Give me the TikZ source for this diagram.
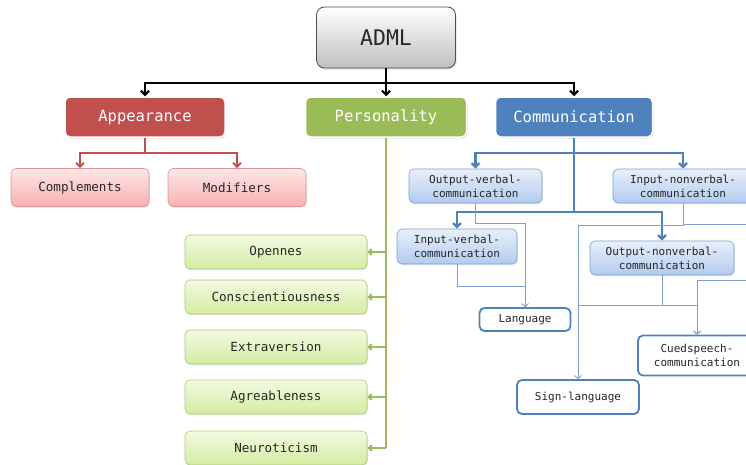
\documentclass[tikz,border=0pt]{standalone}
\usepackage{fontspec}
\setmonofont{DejaVu Sans Mono}
\usepackage{tikz}
\usetikzlibrary{arrows.meta,shadows}

\definecolor{appred}{HTML}{C0504D}
\definecolor{persgreen}{HTML}{9BBB59}
\definecolor{commblue}{HTML}{4F81BD}
\definecolor{thinblue}{HTML}{7BA0CD}
\definecolor{txtgray}{HTML}{262626}
\definecolor{pinktop}{HTML}{FDE7E7}
\definecolor{pinkbot}{HTML}{F8B0B0}
\definecolor{limetop}{HTML}{F3FAE2}
\definecolor{limebot}{HTML}{D3ECA2}
\definecolor{skytop}{HTML}{E8EFFA}
\definecolor{skybot}{HTML}{B2CBEF}

\begin{document}
\begin{tikzpicture}[x=1pt,y=-1pt,font=\ttfamily]
    \tikzstyle{root} = [rectangle, rounded corners=8pt, draw=black!70, line width=0.8pt, top color=white, bottom color=black!25, minimum width=139pt, minimum height=61pt, font=\ttfamily\fontsize{21.5}{24}\selectfont, text=txtgray, drop shadow={opacity=0.25,shadow xshift=1pt,shadow yshift=-1.5pt}]
    \tikzstyle{cat} = [rectangle, rounded corners=5pt, draw=white, line width=1.5pt, minimum height=40pt, text=white, font=\ttfamily\fontsize{15.5}{18}\selectfont, drop shadow={opacity=0.25,shadow xshift=1pt,shadow yshift=-1.5pt}]
    \tikzstyle{redsub} = [rectangle, rounded corners=5pt, draw=appred!60, line width=0.6pt, top color=pinktop, bottom color=pinkbot, minimum width=138pt, minimum height=38pt, text=txtgray, font=\ttfamily\fontsize{12.6}{15}\selectfont, drop shadow={opacity=0.2,shadow xshift=0.8pt,shadow yshift=-1.2pt}]
    \tikzstyle{greensub} = [rectangle, rounded corners=5pt, draw=persgreen!80, line width=0.6pt, top color=limetop, bottom color=limebot, minimum width=182pt, minimum height=34pt, text=txtgray, font=\ttfamily\fontsize{12.6}{15}\selectfont, drop shadow={opacity=0.2,shadow xshift=0.8pt,shadow yshift=-1.2pt}]
    \tikzstyle{bluesub} = [rectangle, rounded corners=5pt, draw=thinblue, line width=0.6pt, top color=skytop, bottom color=skybot, minimum height=34pt, align=center, text=txtgray, font=\ttfamily\fontsize{11}{14}\selectfont, drop shadow={opacity=0.2,shadow xshift=0.8pt,shadow yshift=-1.2pt}]
    \tikzstyle{leaf} = [rectangle, rounded corners=5pt, draw=commblue, line width=1.8pt, fill=white, align=center, text=txtgray, font=\ttfamily\fontsize{11}{14}\selectfont]
    \tikzstyle{blackarrow} = [black, line width=2.2pt, -{Straight Barb[length=4pt,width=8pt]}]
    \tikzstyle{redarrow} = [appred, line width=2pt, -{Straight Barb[length=4pt,width=8pt]}]
    \tikzstyle{greenarrow} = [persgreen, line width=2pt, -{Straight Barb[length=3pt,width=6pt]}]
    \tikzstyle{bluearrow} = [commblue, line width=2.4pt, -{Straight Barb[length=4pt,width=8pt]}]
    \tikzstyle{thinline} = [thinblue, line width=0.9pt]
    \tikzstyle{thinarrow} = [thinblue, line width=0.9pt, -{Straight Barb[length=3pt,width=7pt]}]

    \useasboundingbox (0,0) rectangle (746,464);

    % Root
    \node[root] (adml) at (386,37.5) {ADML};

    % Categories
    \node[cat, fill=appred, minimum width=160pt] (app) at (145,117) {Appearance};
    \node[cat, fill=persgreen, minimum width=161pt] (pers) at (386,117) {Personality};
    \node[cat, fill=commblue, minimum width=157pt] (comm) at (574,117) {Communication};

    \coordinate (rootbus) at (386,83);
    \draw[blackarrow] (adml.south) -- (pers.north);
    \draw[blackarrow] (rootbus) -| (app.north);
    \draw[blackarrow] (rootbus) -| (comm.north);

    % Appearance
    \node[redsub] (compl) at (80,187.5) {Complements};
    \node[redsub] (modif) at (237,187.5) {Modifiers};

    \coordinate (appbus) at (145,153);
    \draw[appred, line width=2pt] (app.south) -- (appbus);
    \draw[redarrow] (appbus) -| (compl.north);
    \draw[redarrow] (appbus) -| (modif.north);

    % Personality
    \foreach \name/\y/\txt in {open/252/Opennes, consc/297/Conscientiousness, extra/347/Extraversion, agree/397/Agreableness, neuro/448/Neuroticism} {
        \node[greensub] (\name) at (276,\y) {\txt};
        \draw[greenarrow] (pers.south |- \name.east) -- (\name.east);
    }
    \draw[persgreen, line width=2pt] (pers.south) -- (pers.south |- neuro.east);

    % Communication
    \node[bluesub, minimum width=133pt] (outverb) at (475.5,186) {Output-verbal-\\communication};
    \node[bluesub, minimum width=140pt] (innonverb) at (683,186) {Input-nonverbal-\\communication};
    \node[bluesub, minimum width=120pt, minimum height=35pt] (inverb) at (457,246.5) {Input-verbal-\\communication};
    \node[bluesub, minimum width=144pt] (outnonverb) at (662,258) {Output-nonverbal-\\communication};

    \coordinate (commup) at (574,153);
    \coordinate (commdown) at (574,212);
    \draw[commblue, line width=2.4pt] (comm.south) -- (commdown);
    \draw[bluearrow] (commup) -| (outverb.north);
    \draw[bluearrow] (commup) -| (innonverb.north);
    \draw[bluearrow] (commdown) -| (inverb.north);
    \draw[bluearrow] (commdown) -| (outnonverb.north);

    % Leaves
    \node[leaf, minimum width=91pt, minimum height=23pt] (lang) at (525,319.5) {Language};
    \node[leaf, minimum width=122pt, minimum height=34pt] (sign) at (578,397) {Sign-language};
    \node[leaf, minimum width=118pt, minimum height=40pt] (cued) at (697,355.5) {Cuedspeech-\\communication};

    \coordinate (offtop) at (760,224);
    \coordinate (offbottom) at (760,280);
    \coordinate (signjoin) at (578,305);

    \draw[thinarrow] (outverb.south) -- ++(0,20) -| (lang.north);
    \draw[thinline] (inverb.south) -- ++(0,22) -| (lang.north);
    \draw[thinarrow] (innonverb.south) -- ++(0,22) -| (sign.north);
    \draw[thinline] (innonverb.south) |- (offtop);
    \draw[thinline] (outnonverb.south) |- (signjoin);
    \draw[thinarrow] (outnonverb.south) -- ++(0,30) -| (cued.north);
    \draw[thinarrow] (offbottom) -| (cued.north);
\end{tikzpicture}
\end{document}
